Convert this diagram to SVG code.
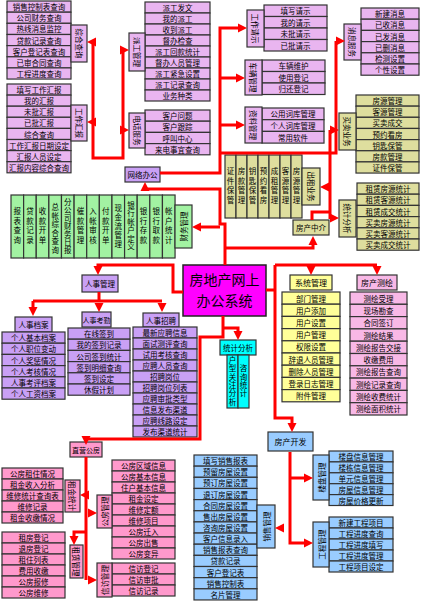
<svg xmlns="http://www.w3.org/2000/svg" width="424" height="601" viewBox="0 0 424 601">
<defs>
<path id="ah" d="M0,0 L-9,-4.5 L-9,4.5 Z" fill="#ff0000"/>
</defs>
<style>
.t{font-family:"Noto Sans CJK SC","Noto Sans",sans-serif;font-size:7.5px;fill:#000;text-anchor:middle;dominant-baseline:central}
.vt{writing-mode:vertical-rl}
.big{font-size:14px}
.b{stroke:#333;stroke-width:1.2}
.lav{fill:#E9B5F0}
.pur{fill:#C9A0F5}
.grn{fill:#A2F2A2}
.khk{fill:#DEDE9E}
.yel{fill:#FFFF99}
.pnk{fill:#F8B8E6}
.pk2{fill:#FF99CC}
.blu{fill:#99CCFF}
.cyn{fill:#00FFFF}
.mag{fill:#FF00FF}
.w{fill:none;stroke:#ff0000;stroke-width:3}
</style>
<rect width="424" height="601" fill="#fff"/>

<!-- 综合查询 -->
<g id="zh1"><rect class="b lav" x="7" y="1" width="64" height="11.15"/><text class="t" x="39" y="6.6">销售控制表查询</text></g>
<g id="zh2"><rect class="b lav" x="7" y="12.2" width="64" height="11.15"/><text class="t" x="39" y="17.8">公司财务查询</text></g>
<g id="zh3"><rect class="b lav" x="7" y="23.3" width="64" height="11.15"/><text class="t" x="39" y="28.9">热线消息监控</text></g>
<g id="zh4"><rect class="b lav" x="7" y="34.5" width="64" height="11.15"/><text class="t" x="39" y="40.1">贷款记录查询</text></g>
<g id="zh5"><rect class="b lav" x="7" y="45.6" width="64" height="11.15"/><text class="t" x="39" y="51.2">客户登记表查询</text></g>
<g id="zh6"><rect class="b lav" x="7" y="56.8" width="64" height="11.15"/><text class="t" x="39" y="62.4">已审合同查询</text></g>
<g id="zh7"><rect class="b lav" x="7" y="67.9" width="64" height="11.15"/><text class="t" x="39" y="73.5">工程进度查询</text></g>
<g id="zhcx"><rect class="b lav" x="71" y="25" width="16" height="37"/><text class="t" transform="translate(79,43.5) rotate(90)">综合查询</text></g>

<!-- 工作汇报 -->
<g id="hb1"><rect class="b lav" x="7" y="84" width="64" height="11.1"/><text class="t" x="39" y="89.6">填写工作汇报</text></g>
<g id="hb2"><rect class="b lav" x="7" y="95.1" width="64" height="11.1"/><text class="t" x="39" y="100.7">我的汇报</text></g>
<g id="hb3"><rect class="b lav" x="7" y="106.2" width="64" height="11.1"/><text class="t" x="39" y="111.8">未批汇报</text></g>
<g id="hb4"><rect class="b lav" x="7" y="117.3" width="64" height="11.1"/><text class="t" x="39" y="122.9">已批汇报</text></g>
<g id="hb5"><rect class="b lav" x="7" y="128.4" width="64" height="11.1"/><text class="t" x="39" y="134">综合查询</text></g>
<g id="hb6"><rect class="b lav" x="7" y="139.5" width="64" height="11.1"/><text class="t" x="39" y="145.1">工作汇报日期设定</text></g>
<g id="hb7"><rect class="b lav" x="7" y="150.6" width="64" height="11.1"/><text class="t" x="39" y="156.2">汇报人员设定</text></g>
<g id="hb8"><rect class="b lav" x="7" y="161.7" width="64" height="11.1"/><text class="t" x="39" y="167.3">汇报内容综合查询</text></g>
<g id="gzhb"><rect class="b lav" x="71" y="105" width="16" height="36"/><text class="t" transform="translate(79,123) rotate(90)">工作汇报</text></g>

<!-- 派工管理 -->
<g id="pg1"><rect class="b lav" x="145" y="2" width="65" height="11"/><text class="t" x="177.5" y="7.5">派工发文</text></g>
<g id="pg2"><rect class="b lav" x="145" y="13" width="65" height="11"/><text class="t" x="177.5" y="18.5">我的派工</text></g>
<g id="pg3"><rect class="b lav" x="145" y="24" width="65" height="11"/><text class="t" x="177.5" y="29.5">收到派工</text></g>
<g id="pg4"><rect class="b lav" x="145" y="35" width="65" height="11"/><text class="t" x="177.5" y="40.5">督办检查</text></g>
<g id="pg5"><rect class="b lav" x="145" y="46" width="65" height="11"/><text class="t" x="177.5" y="51.5">派工回款统计</text></g>
<g id="pg6"><rect class="b lav" x="145" y="57" width="65" height="11"/><text class="t" x="177.5" y="62.5">督办人员管理</text></g>
<g id="pg7"><rect class="b lav" x="145" y="68" width="65" height="11"/><text class="t" x="177.5" y="73.5">派工紧急设置</text></g>
<g id="pg8"><rect class="b lav" x="145" y="79" width="65" height="11"/><text class="t" x="177.5" y="84.5">派工记录查询</text></g>
<g id="pg9"><rect class="b lav" x="145" y="90" width="65" height="11"/><text class="t" x="177.5" y="95.5">业务种类</text></g>
<g id="pggl"><rect class="b lav" x="129" y="33" width="16" height="38"/><text class="t" transform="translate(137,52) rotate(90)">派工管理</text></g>

<!-- 电话服务 -->
<g id="dh1"><rect class="b lav" x="145" y="110" width="65" height="11.2"/><text class="t" x="177.5" y="115.6">客户问题</text></g>
<g id="dh2"><rect class="b lav" x="145" y="121.2" width="65" height="11.2"/><text class="t" x="177.5" y="126.8">客户跟踪</text></g>
<g id="dh3"><rect class="b lav" x="145" y="132.4" width="65" height="11.2"/><text class="t" x="177.5" y="138">呼叫中心</text></g>
<g id="dh4"><rect class="b lav" x="145" y="143.6" width="65" height="11.2"/><text class="t" x="177.5" y="149.2">来电事宜查询</text></g>
<g id="dhfw"><rect class="b lav" x="129" y="113" width="16" height="35"/><text class="t" transform="translate(137,130.5) rotate(90)">电话服务</text></g>

<!-- 工作请示 -->
<g id="qs1"><rect class="b lav" x="264" y="5" width="63" height="11.5"/><text class="t" x="295.5" y="10.75">填写请示</text></g>
<g id="qs2"><rect class="b lav" x="264" y="16.5" width="63" height="11.5"/><text class="t" x="295.5" y="22.25">我的请示</text></g>
<g id="qs3"><rect class="b lav" x="264" y="28" width="63" height="11.5"/><text class="t" x="295.5" y="33.75">未批请示</text></g>
<g id="qs4"><rect class="b lav" x="264" y="39.5" width="63" height="11.5"/><text class="t" x="295.5" y="45.25">已批请示</text></g>
<g id="gzqs"><rect class="b lav" x="247" y="10" width="17" height="37"/><text class="t" transform="translate(255.5,28.5) rotate(90)">工作请示</text></g>

<!-- 车辆管理 -->
<g id="cl1"><rect class="b lav" x="262" y="60" width="63" height="11.5"/><text class="t" x="293.5" y="65.75">车辆维护</text></g>
<g id="cl2"><rect class="b lav" x="262" y="71.5" width="63" height="11.5"/><text class="t" x="293.5" y="77.25">使用登记</text></g>
<g id="cl3"><rect class="b lav" x="262" y="83" width="63" height="11.5"/><text class="t" x="293.5" y="88.75">归还登记</text></g>
<g id="clgl"><rect class="b lav" x="245" y="60" width="17" height="35"/><text class="t" transform="translate(253.5,77.5) rotate(90)">车辆管理</text></g>

<!-- 资料管理 -->
<g id="zl1"><rect class="b lav" x="262" y="108" width="62" height="11.7"/><text class="t" x="293" y="113.85">公用词库管理</text></g>
<g id="zl2"><rect class="b lav" x="262" y="119.7" width="62" height="11.7"/><text class="t" x="293" y="125.55">个人词库管理</text></g>
<g id="zl3"><rect class="b lav" x="262" y="131.4" width="62" height="11.7"/><text class="t" x="293" y="137.25">常用软件</text></g>
<g id="zlgl"><rect class="b lav" x="245" y="107" width="17" height="36"/><text class="t" transform="translate(253.5,125) rotate(90)">资料管理</text></g>

<!-- 消息服务 -->
<g id="xx1"><rect class="b lav" x="361" y="8" width="58" height="11.2"/><text class="t" x="390" y="13.6">新建消息</text></g>
<g id="xx2"><rect class="b lav" x="361" y="19.2" width="58" height="11.2"/><text class="t" x="390" y="24.8">已收消息</text></g>
<g id="xx3"><rect class="b lav" x="361" y="30.4" width="58" height="11.2"/><text class="t" x="390" y="36">已发消息</text></g>
<g id="xx4"><rect class="b lav" x="361" y="41.6" width="58" height="11.2"/><text class="t" x="390" y="47.2">已删消息</text></g>
<g id="xx5"><rect class="b lav" x="361" y="52.8" width="58" height="11.2"/><text class="t" x="390" y="58.4">检测设置</text></g>
<g id="xx6"><rect class="b lav" x="361" y="64" width="58" height="11.2"/><text class="t" x="390" y="69.6">个性设置</text></g>
<g id="xxfw"><rect class="b lav" x="344" y="24" width="17" height="36"/><text class="t" transform="translate(352.5,42) rotate(90)">消息服务</text></g>

<!-- 网络办公 -->
<g id="wlbg"><rect class="b pur" x="125" y="167" width="35" height="15"/><text class="t" x="142.5" y="174.5">网络办公</text></g>

<!-- 买卖业务 -->
<g id="mm1"><rect class="b khk" x="356" y="95" width="63" height="11.15"/><text class="t" x="387.5" y="100.6">房源管理</text></g>
<g id="mm2"><rect class="b khk" x="356" y="106.15" width="63" height="11.15"/><text class="t" x="387.5" y="111.7">客源管理</text></g>
<g id="mm3"><rect class="b khk" x="356" y="117.3" width="63" height="11.15"/><text class="t" x="387.5" y="122.9">买卖成交</text></g>
<g id="mm4"><rect class="b khk" x="356" y="128.45" width="63" height="11.15"/><text class="t" x="387.5" y="134">预约看房</text></g>
<g id="mm5"><rect class="b khk" x="356" y="139.6" width="63" height="11.15"/><text class="t" x="387.5" y="145.2">钥匙保管</text></g>
<g id="mm6"><rect class="b khk" x="356" y="150.75" width="63" height="11.15"/><text class="t" x="387.5" y="156.3">房款管理</text></g>
<g id="mm7"><rect class="b khk" x="356" y="161.9" width="63" height="11.15"/><text class="t" x="387.5" y="167.5">证件保管</text></g>
<g id="mmyw"><rect class="b khk" x="339" y="113" width="17" height="37"/><text class="t" transform="translate(347.5,131.5) rotate(90)">买卖业务</text></g>

<!-- 出租业务 -->
<g id="cz1"><rect class="b khk" x="225" y="155" width="11" height="63"/><text class="t vt" x="230.5" y="186.5" style="letter-spacing:2px">证件保管</text></g>
<g id="cz2"><rect class="b khk" x="236" y="155" width="11" height="63"/><text class="t vt" x="241.5" y="186.5" style="letter-spacing:2px">房款管理</text></g>
<g id="cz3"><rect class="b khk" x="247" y="155" width="11" height="63"/><text class="t vt" x="252.5" y="186.5" style="letter-spacing:2px">钥匙保管</text></g>
<g id="cz4"><rect class="b khk" x="258" y="155" width="11" height="63"/><text class="t vt" x="263.5" y="186.5" style="letter-spacing:2px">预约看房</text></g>
<g id="cz5"><rect class="b khk" x="269" y="155" width="11" height="63"/><text class="t vt" x="274.5" y="186.5" style="letter-spacing:2px">成租管理</text></g>
<g id="cz6"><rect class="b khk" x="280" y="155" width="11" height="63"/><text class="t vt" x="285.5" y="186.5" style="letter-spacing:2px">客源管理</text></g>
<g id="cz7"><rect class="b khk" x="291" y="155" width="11" height="63"/><text class="t vt" x="296.5" y="186.5" style="letter-spacing:2px">房源管理</text></g>
<g id="czyw"><rect class="b khk" x="302" y="168" width="18" height="37"/><text class="t" transform="translate(311,186.5) rotate(90)">出租业务</text></g>

<!-- 统计分析 (中介) -->
<g id="tj1"><rect class="b khk" x="357" y="183" width="62" height="11.2"/><text class="t" x="388" y="188.6">租赁房源统计</text></g>
<g id="tj2"><rect class="b khk" x="357" y="194.2" width="62" height="11.2"/><text class="t" x="388" y="199.8">租赁客源统计</text></g>
<g id="tj3"><rect class="b khk" x="357" y="205.4" width="62" height="11.2"/><text class="t" x="388" y="211">租赁成交统计</text></g>
<g id="tj4"><rect class="b khk" x="357" y="216.6" width="62" height="11.2"/><text class="t" x="388" y="222.2">买卖房源统计</text></g>
<g id="tj5"><rect class="b khk" x="357" y="227.8" width="62" height="11.2"/><text class="t" x="388" y="233.4">买卖客源统计</text></g>
<g id="tj6"><rect class="b khk" x="357" y="239" width="62" height="11.2"/><text class="t" x="388" y="244.6">买卖成交统计</text></g>
<g id="tjfx1"><rect class="b khk" x="339" y="200" width="17" height="37"/><text class="t" transform="translate(347.5,218.5) rotate(90)">统计分析</text></g>

<g id="fczj"><rect class="b khk" x="293" y="220" width="36" height="15"/><text class="t" x="311" y="227.5">房产中介</text></g>

<!-- 财务管理 -->
<g id="cw1"><rect class="b grn" x="11" y="195" width="12.62" height="63"/><text class="t vt" x="17.31" y="226.5" style="letter-spacing:2px">报表查询</text></g>
<g id="cw2"><rect class="b grn" x="23.62" y="195" width="12.62" height="63"/><text class="t vt" x="29.93" y="226.5" style="letter-spacing:2px">贷款记录</text></g>
<g id="cw3"><rect class="b grn" x="36.24" y="195" width="12.62" height="63"/><text class="t vt" x="42.55" y="226.5" style="letter-spacing:2px">收款开单</text></g>
<g id="cw4"><rect class="b grn" x="48.86" y="195" width="12.62" height="63"/><text class="t vt" x="55.17" y="229" style="letter-spacing:1px">总帐综合查询</text></g>
<g id="cw5"><rect class="b grn" x="61.48" y="195" width="12.62" height="63"/><text class="t vt" x="67.79" y="226.5" style="letter-spacing:0.5px">分公司财务日报</text></g>
<g id="cw6"><rect class="b grn" x="74.1" y="195" width="12.62" height="63"/><text class="t vt" x="80.41" y="226.5" style="letter-spacing:2px">催款管理</text></g>
<g id="cw7"><rect class="b grn" x="86.72" y="195" width="12.62" height="63"/><text class="t vt" x="93.03" y="226.5" style="letter-spacing:2px">入帐审核</text></g>
<g id="cw8"><rect class="b grn" x="99.34" y="195" width="12.62" height="63"/><text class="t vt" x="105.65" y="226.5" style="letter-spacing:2px">付款开单</text></g>
<g id="cw9"><rect class="b grn" x="111.96" y="195" width="12.62" height="63"/><text class="t vt" x="118.27" y="226.5" style="letter-spacing:1.5px">现金流管理</text></g>
<g id="cw10"><rect class="b grn" x="124.58" y="195" width="12.62" height="63"/><text class="t vt" x="130.89" y="226.5" style="letter-spacing:1px">银行帐户定义</text></g>
<g id="cw11"><rect class="b grn" x="137.2" y="195" width="12.62" height="63"/><text class="t vt" x="143.51" y="226.5" style="letter-spacing:2px">银行存款</text></g>
<g id="cw12"><rect class="b grn" x="149.82" y="195" width="12.62" height="63"/><text class="t vt" x="156.13" y="226.5" style="letter-spacing:2px">银行取款</text></g>
<g id="cw13"><rect class="b grn" x="162.44" y="195" width="12.62" height="63"/><text class="t vt" x="168.75" y="226.5" style="letter-spacing:2px">帐户统计</text></g>
<g id="cwgl"><rect class="b grn" x="175" y="205" width="17" height="43"/><text class="t" transform="translate(183.5,226.5) rotate(-90)">财务管理</text></g>

<!-- 主节点 -->
<g id="main"><rect class="mag" x="183" y="265" width="83" height="51" stroke="#222" stroke-width="1.5"/><text class="t big" x="224.5" y="279">房地产网上</text><text class="t big" x="224.5" y="300">办公系统</text></g>

<!-- 人事管理 -->
<g id="rsgl"><rect class="b pur" x="82" y="275" width="36" height="17"/><text class="t" x="100" y="283.5">人事管理</text></g>
<g id="rsda"><rect class="b pur" x="15" y="317" width="37" height="15"/><text class="t" x="33.5" y="324.5">人事档案</text></g>
<g id="da1"><rect class="b pur" x="2" y="332" width="63" height="11.2"/><text class="t" x="33.5" y="337.6">个人基本档案</text></g>
<g id="da2"><rect class="b pur" x="2" y="343.2" width="63" height="11.2"/><text class="t" x="33.5" y="348.8">个人职位变动</text></g>
<g id="da3"><rect class="b pur" x="2" y="354.4" width="63" height="11.2"/><text class="t" x="33.5" y="360">个人奖惩情况</text></g>
<g id="da4"><rect class="b pur" x="2" y="365.6" width="63" height="11.2"/><text class="t" x="33.5" y="371.2">个人考核情况</text></g>
<g id="da5"><rect class="b pur" x="2" y="376.8" width="63" height="11.2"/><text class="t" x="33.5" y="382.4">人事考评档案</text></g>
<g id="da6"><rect class="b pur" x="2" y="388" width="63" height="11.2"/><text class="t" x="33.5" y="393.6">个人工资档案</text></g>
<g id="rskq"><rect class="b pur" x="82" y="312" width="29" height="15"/><text class="t" x="96.5" y="319.5" style="font-size:7px">人事考勤</text></g>
<g id="kq1"><rect class="b pur" x="68" y="328" width="62" height="11.2"/><text class="t" x="99" y="333.6">在线签到</text></g>
<g id="kq2"><rect class="b pur" x="68" y="339.2" width="62" height="11.2"/><text class="t" x="99" y="344.8">我的签到记录</text></g>
<g id="kq3"><rect class="b pur" x="68" y="350.4" width="62" height="11.2"/><text class="t" x="99" y="356">公司签到统计</text></g>
<g id="kq4"><rect class="b pur" x="68" y="361.6" width="62" height="11.2"/><text class="t" x="99" y="367.2">签到明细查询</text></g>
<g id="kq5"><rect class="b pur" x="68" y="372.8" width="62" height="11.2"/><text class="t" x="99" y="378.4">签到设定</text></g>
<g id="kq6"><rect class="b pur" x="68" y="384" width="62" height="11.2"/><text class="t" x="99" y="389.6">休假计划</text></g>
<g id="rszp"><rect class="b pur" x="143" y="313" width="36" height="14"/><text class="t" x="161" y="320">人事招聘</text></g>
<g id="zp1"><rect class="b pur" x="133" y="327" width="64" height="11"/><text class="t" x="165" y="332.5">最新应聘信息</text></g>
<g id="zp2"><rect class="b pur" x="133" y="338" width="64" height="11"/><text class="t" x="165" y="343.5">面试测评查询</text></g>
<g id="zp3"><rect class="b pur" x="133" y="349" width="64" height="11"/><text class="t" x="165" y="354.5">试用考核查询</text></g>
<g id="zp4"><rect class="b pur" x="133" y="360" width="64" height="11"/><text class="t" x="165" y="365.5">应聘人员查询</text></g>
<g id="zp5"><rect class="b pur" x="133" y="371" width="64" height="11"/><text class="t" x="165" y="376.5">招聘岗位</text></g>
<g id="zp6"><rect class="b pur" x="133" y="382" width="64" height="11"/><text class="t" x="165" y="387.5">招聘岗位列表</text></g>
<g id="zp7"><rect class="b pur" x="133" y="393" width="64" height="11"/><text class="t" x="165" y="398.5">应聘审批类型</text></g>
<g id="zp8"><rect class="b pur" x="133" y="404" width="64" height="11"/><text class="t" x="165" y="409.5">信息发布渠道</text></g>
<g id="zp9"><rect class="b pur" x="133" y="415" width="64" height="11"/><text class="t" x="165" y="420.5">应聘线路设定</text></g>
<g id="zp10"><rect class="b pur" x="133" y="426" width="64" height="11"/><text class="t" x="165" y="431.5">发布渠道统计</text></g>

<!-- 统计分析 (cyan) -->
<g id="tjfx2"><rect class="b cyn" x="220" y="340" width="36" height="15"/><text class="t" x="238" y="347.5">统计分析</text></g>
<g id="hxgz"><rect class="b cyn" x="227" y="355" width="11" height="53"/><text class="t vt" x="232.5" y="381.5" style="letter-spacing:0.8px">户型关注分析</text></g>
<g id="zxtj"><rect class="b cyn" x="238" y="355" width="11" height="53"/><text class="t vt" x="243.5" y="381.5" style="letter-spacing:0.8px">咨询统计</text></g>

<!-- 系统管理 -->
<g id="xtgl"><rect class="b yel" x="290" y="275" width="42" height="15"/><text class="t" x="311" y="282.5" style="font-size:8px">系统管理</text></g>
<g id="xt1"><rect class="b yel" x="282" y="292" width="58" height="12.2"/><text class="t" x="311" y="298.1">部门管理</text></g>
<g id="xt2"><rect class="b yel" x="282" y="304.2" width="58" height="12.2"/><text class="t" x="311" y="310.3">用户添加</text></g>
<g id="xt3"><rect class="b yel" x="282" y="316.4" width="58" height="12.2"/><text class="t" x="311" y="322.5">用户设置</text></g>
<g id="xt4"><rect class="b yel" x="282" y="328.6" width="58" height="12.2"/><text class="t" x="311" y="334.7">用户管理</text></g>
<g id="xt5"><rect class="b yel" x="282" y="340.8" width="58" height="12.2"/><text class="t" x="311" y="346.9">权限设置</text></g>
<g id="xt6"><rect class="b yel" x="282" y="353" width="58" height="12.2"/><text class="t" x="311" y="359.1">辞退人员管理</text></g>
<g id="xt7"><rect class="b yel" x="282" y="365.2" width="58" height="12.2"/><text class="t" x="311" y="371.3">删除人员管理</text></g>
<g id="xt8"><rect class="b yel" x="282" y="377.4" width="58" height="12.2"/><text class="t" x="311" y="383.5">登录日志管理</text></g>
<g id="xt9"><rect class="b yel" x="282" y="389.6" width="58" height="12.2"/><text class="t" x="311" y="395.7">附件管理</text></g>

<!-- 房产测绘 -->
<g id="fcch"><rect class="b pnk" x="357" y="275" width="40" height="15"/><text class="t" x="377" y="282.5" style="font-size:8px">房产测绘</text></g>
<g id="ch1"><rect class="b pnk" x="350" y="292" width="57" height="12.3"/><text class="t" x="378.5" y="298.15">测绘受理</text></g>
<g id="ch2"><rect class="b pnk" x="350" y="304.3" width="57" height="12.3"/><text class="t" x="378.5" y="310.45">现场勘查</text></g>
<g id="ch3"><rect class="b pnk" x="350" y="316.6" width="57" height="12.3"/><text class="t" x="378.5" y="322.75">合同签订</text></g>
<g id="ch4"><rect class="b pnk" x="350" y="328.9" width="57" height="12.3"/><text class="t" x="378.5" y="335.05">测绘结果</text></g>
<g id="ch5"><rect class="b pnk" x="350" y="341.2" width="57" height="12.3"/><text class="t" x="378.5" y="347.35">测绘报告交接</text></g>
<g id="ch6"><rect class="b pnk" x="350" y="353.5" width="57" height="12.3"/><text class="t" x="378.5" y="359.65">收缴费用</text></g>
<g id="ch7"><rect class="b pnk" x="350" y="365.8" width="57" height="12.3"/><text class="t" x="378.5" y="371.95">测绘报告查询</text></g>
<g id="ch8"><rect class="b pnk" x="350" y="378.1" width="57" height="12.3"/><text class="t" x="378.5" y="384.25">测绘记录查询</text></g>
<g id="ch9"><rect class="b pnk" x="350" y="390.4" width="57" height="12.3"/><text class="t" x="378.5" y="396.55">测绘收费统计</text></g>
<g id="ch10"><rect class="b pnk" x="350" y="402.7" width="57" height="12.3"/><text class="t" x="378.5" y="408.85">测绘面积统计</text></g>

<!-- 房产开发 -->
<g id="fckf"><rect class="b blu" x="268" y="432" width="45" height="19"/><text class="t" x="290.5" y="441.5" style="font-size:8px">房产开发</text></g>
<g id="lp1"><rect class="b blu" x="329" y="451" width="64" height="10.9"/><text class="t" x="361" y="456.45">楼盘信息管理</text></g>
<g id="lp2"><rect class="b blu" x="329" y="461.9" width="64" height="10.9"/><text class="t" x="361" y="467.35">楼栋信息管理</text></g>
<g id="lp3"><rect class="b blu" x="329" y="472.8" width="64" height="10.9"/><text class="t" x="361" y="478.25">单元信息管理</text></g>
<g id="lp4"><rect class="b blu" x="329" y="483.7" width="64" height="10.9"/><text class="t" x="361" y="489.15">房屋信息管理</text></g>
<g id="lp5"><rect class="b blu" x="329" y="494.6" width="64" height="10.9"/><text class="t" x="361" y="500.05">房屋价格更新</text></g>
<g id="lpgl"><rect class="b blu" x="313" y="455" width="16" height="45"/><text class="t" transform="translate(321,477.5) rotate(-90)">楼盘管理</text></g>
<g id="gc1"><rect class="b blu" x="329" y="517" width="64" height="11"/><text class="t" x="361" y="522.5">新建工程项目</text></g>
<g id="gc2"><rect class="b blu" x="329" y="528" width="64" height="11"/><text class="t" x="361" y="533.5">工程进度查询</text></g>
<g id="gc3"><rect class="b blu" x="329" y="539" width="64" height="11"/><text class="t" x="361" y="544.5">工程进度填写</text></g>
<g id="gc4"><rect class="b blu" x="329" y="550" width="64" height="11"/><text class="t" x="361" y="555.5">工程进度管理</text></g>
<g id="gc5"><rect class="b blu" x="329" y="561" width="64" height="11"/><text class="t" x="361" y="566.5">工程项目设定</text></g>
<g id="gcgl"><rect class="b blu" x="313" y="522" width="16" height="45"/><text class="t" transform="translate(321,544.5) rotate(-90)">工程管理</text></g>
<g id="xs1"><rect class="b blu" x="194" y="455" width="63" height="11.15"/><text class="t" x="225.5" y="460.6">填写销售报表</text></g>
<g id="xs2"><rect class="b blu" x="194" y="466.15" width="63" height="11.15"/><text class="t" x="225.5" y="471.7">预留房屋设置</text></g>
<g id="xs3"><rect class="b blu" x="194" y="477.3" width="63" height="11.15"/><text class="t" x="225.5" y="482.9">预订房屋设置</text></g>
<g id="xs4"><rect class="b blu" x="194" y="488.45" width="63" height="11.15"/><text class="t" x="225.5" y="494">退订房屋设置</text></g>
<g id="xs5"><rect class="b blu" x="194" y="499.6" width="63" height="11.15"/><text class="t" x="225.5" y="505.2">合同房屋设置</text></g>
<g id="xs6"><rect class="b blu" x="194" y="510.75" width="63" height="11.15"/><text class="t" x="225.5" y="516.3">售出房屋设置</text></g>
<g id="xs7"><rect class="b blu" x="194" y="521.9" width="63" height="11.15"/><text class="t" x="225.5" y="527.5">咨询房屋设置</text></g>
<g id="xs8"><rect class="b blu" x="194" y="533.05" width="63" height="11.15"/><text class="t" x="225.5" y="538.6">客户信息录入</text></g>
<g id="xs9"><rect class="b blu" x="194" y="544.2" width="63" height="11.15"/><text class="t" x="225.5" y="549.8">销售报表查询</text></g>
<g id="xs10"><rect class="b blu" x="194" y="555.35" width="63" height="11.15"/><text class="t" x="225.5" y="560.9">贷款记录</text></g>
<g id="xs11"><rect class="b blu" x="194" y="566.5" width="63" height="11.15"/><text class="t" x="225.5" y="572.1">客户登记表</text></g>
<g id="xs12"><rect class="b blu" x="194" y="577.65" width="63" height="11.15"/><text class="t" x="225.5" y="583.2">销售控制表</text></g>
<g id="xs13"><rect class="b blu" x="194" y="588.8" width="63" height="11.15"/><text class="t" x="225.5" y="594.4">名片管理</text></g>
<g id="xsgl"><rect class="b blu" x="257" y="505" width="18" height="43"/><text class="t" transform="translate(266,526.5) rotate(-90)">销售管理</text></g>

<!-- 直营公房 -->
<g id="zygf"><rect class="b pk2" x="70" y="442" width="32" height="15"/><text class="t" x="86" y="449.5" style="font-size:7px">直营公房</text></g>
<g id="zj1"><rect class="b pk2" x="2" y="468" width="61" height="11"/><text class="t" x="32.5" y="473.5">公房租住情况</text></g>
<g id="zj2"><rect class="b pk2" x="2" y="479" width="61" height="11"/><text class="t" x="32.5" y="484.5">租金收入分析</text></g>
<g id="zj3"><rect class="b pk2" x="2" y="490" width="61" height="11"/><text class="t" x="32.5" y="495.5">维修统计查询表</text></g>
<g id="zj4"><rect class="b pk2" x="2" y="501" width="61" height="11"/><text class="t" x="32.5" y="506.5">维修记录</text></g>
<g id="zj5"><rect class="b pk2" x="2" y="512" width="61" height="11"/><text class="t" x="32.5" y="517.5">租金收缴情况</text></g>
<g id="zjtj"><rect class="b pk2" x="65" y="480" width="15" height="32"/><text class="t" transform="translate(72.5,496) rotate(90)">租金统计</text></g>
<g id="zl_1"><rect class="b pk2" x="2" y="532" width="63" height="11"/><text class="t" x="33.5" y="537.5">租房登记</text></g>
<g id="zl_2"><rect class="b pk2" x="2" y="543" width="63" height="11"/><text class="t" x="33.5" y="548.5">退房登记</text></g>
<g id="zl_3"><rect class="b pk2" x="2" y="554" width="63" height="11"/><text class="t" x="33.5" y="559.5">租住列表</text></g>
<g id="zl_4"><rect class="b pk2" x="2" y="565" width="63" height="11"/><text class="t" x="33.5" y="570.5">费用收缴</text></g>
<g id="zl_5"><rect class="b pk2" x="2" y="576" width="63" height="11"/><text class="t" x="33.5" y="581.5">公房报修</text></g>
<g id="zl_6"><rect class="b pk2" x="2" y="587" width="63" height="11"/><text class="t" x="33.5" y="592.5">公房维修</text></g>
<g id="zlgl2"><rect class="b pk2" x="70" y="545" width="13" height="33"/><text class="t" transform="translate(76.5,561.5) rotate(90)">租赁管理</text></g>
<g id="gf1"><rect class="b pk2" x="112" y="460" width="63" height="11"/><text class="t" x="143.5" y="465.5">公房区域信息</text></g>
<g id="gf2"><rect class="b pk2" x="112" y="471" width="63" height="11"/><text class="t" x="143.5" y="476.5">公房基本信息</text></g>
<g id="gf3"><rect class="b pk2" x="112" y="482" width="63" height="11"/><text class="t" x="143.5" y="487.5">住户基本信息</text></g>
<g id="gf4"><rect class="b pk2" x="112" y="493" width="63" height="11"/><text class="t" x="143.5" y="498.5">租金设定</text></g>
<g id="gf5"><rect class="b pk2" x="112" y="504" width="63" height="11"/><text class="t" x="143.5" y="509.5">维修定额</text></g>
<g id="gf6"><rect class="b pk2" x="112" y="515" width="63" height="11"/><text class="t" x="143.5" y="520.5">维修项目</text></g>
<g id="gf7"><rect class="b pk2" x="112" y="526" width="63" height="11"/><text class="t" x="143.5" y="531.5">公房迁入</text></g>
<g id="gf8"><rect class="b pk2" x="112" y="537" width="63" height="11"/><text class="t" x="143.5" y="542.5">公房出售</text></g>
<g id="gf9"><rect class="b pk2" x="112" y="548" width="63" height="11"/><text class="t" x="143.5" y="553.5">公房变异</text></g>
<g id="gfgl"><rect class="b pk2" x="97" y="495" width="15" height="33"/><text class="t" transform="translate(104.5,511.5) rotate(-90)">公房管理</text></g>
<g id="xf1"><rect class="b pk2" x="112" y="563" width="63" height="11"/><text class="t" x="143.5" y="568.5">信访登记</text></g>
<g id="xf2"><rect class="b pk2" x="112" y="574" width="63" height="11"/><text class="t" x="143.5" y="579.5">信访审批</text></g>
<g id="xf3"><rect class="b pk2" x="112" y="585" width="63" height="11"/><text class="t" x="143.5" y="590.5">信访记录</text></g>
<g id="xfgl"><rect class="b pk2" x="97" y="563" width="15" height="34"/><text class="t" transform="translate(104.5,580) rotate(-90)">信访管理</text></g>

<!-- 连接线 -->
<g id="connectors">
<path class="w" d="M93,40 V158 H123 V48"/>
<path class="w" d="M160,173 H220 V28 H238 M220,78 H236 M220,125 H236"/>
<path class="w" d="M220,153 H336 V41"/>
<path class="w" d="M225,265 V224 H220 V189 H145"/>
<path class="w" d="M220,227 H201"/>
<path class="w" d="M225,248 H313 V245"/>
<path class="w" d="M312,220 V212 H330 M330,219 V130"/>
<path class="w" d="M183,292 H173 V265 H98 V266"/>
<path class="w" d="M99,292 V301 M33,301 H162 M33,301 V307"/>
<path class="w" d="M223,316 V328 H238 V331 M223,328 V337 H200 V439 H86 V436"/>
<path class="w" d="M266,290 H275 M275,265 V418 H292 V423 M275,265 H377"/>
<path class="w" d="M290,452 V543 H304 M290,478 H304"/>
<path class="w" d="M86,457 V580 M86,532 H74 V536"/>
<use href="#ah" transform="translate(87,42) rotate(180)"/>
<use href="#ah" transform="translate(87,122) rotate(180)"/>
<use href="#ah" transform="translate(129,50)"/>
<use href="#ah" transform="translate(129,130)"/>
<use href="#ah" transform="translate(247,28)"/>
<use href="#ah" transform="translate(245,78)"/>
<use href="#ah" transform="translate(245,125)"/>
<use href="#ah" transform="translate(345,41)"/>
<use href="#ah" transform="translate(145,182) rotate(270)"/>
<use href="#ah" transform="translate(192,227) rotate(180)"/>
<use href="#ah" transform="translate(313,236) rotate(270)"/>
<use href="#ah" transform="translate(339,130)"/>
<use href="#ah" transform="translate(320,187) rotate(180)"/>
<use href="#ah" transform="translate(339,218)"/>
<use href="#ah" transform="translate(98,275) rotate(90)"/>
<use href="#ah" transform="translate(33,316) rotate(90)"/>
<use href="#ah" transform="translate(99,312) rotate(90)"/>
<use href="#ah" transform="translate(162,312) rotate(90)"/>
<use href="#ah" transform="translate(238,340) rotate(90)"/>
<use href="#ah" transform="translate(86,445) rotate(90)"/>
<use href="#ah" transform="translate(292,432) rotate(90)"/>
<use href="#ah" transform="translate(311,275) rotate(90)"/>
<use href="#ah" transform="translate(377,275) rotate(90)"/>
<use href="#ah" transform="translate(313,478)"/>
<use href="#ah" transform="translate(313,543)"/>
<use href="#ah" transform="translate(275,528) rotate(180)"/>
<use href="#ah" transform="translate(80,495) rotate(180)"/>
<use href="#ah" transform="translate(97,513)"/>
<use href="#ah" transform="translate(97,580)"/>
<use href="#ah" transform="translate(74,545) rotate(90)"/>
</g>
</svg>
